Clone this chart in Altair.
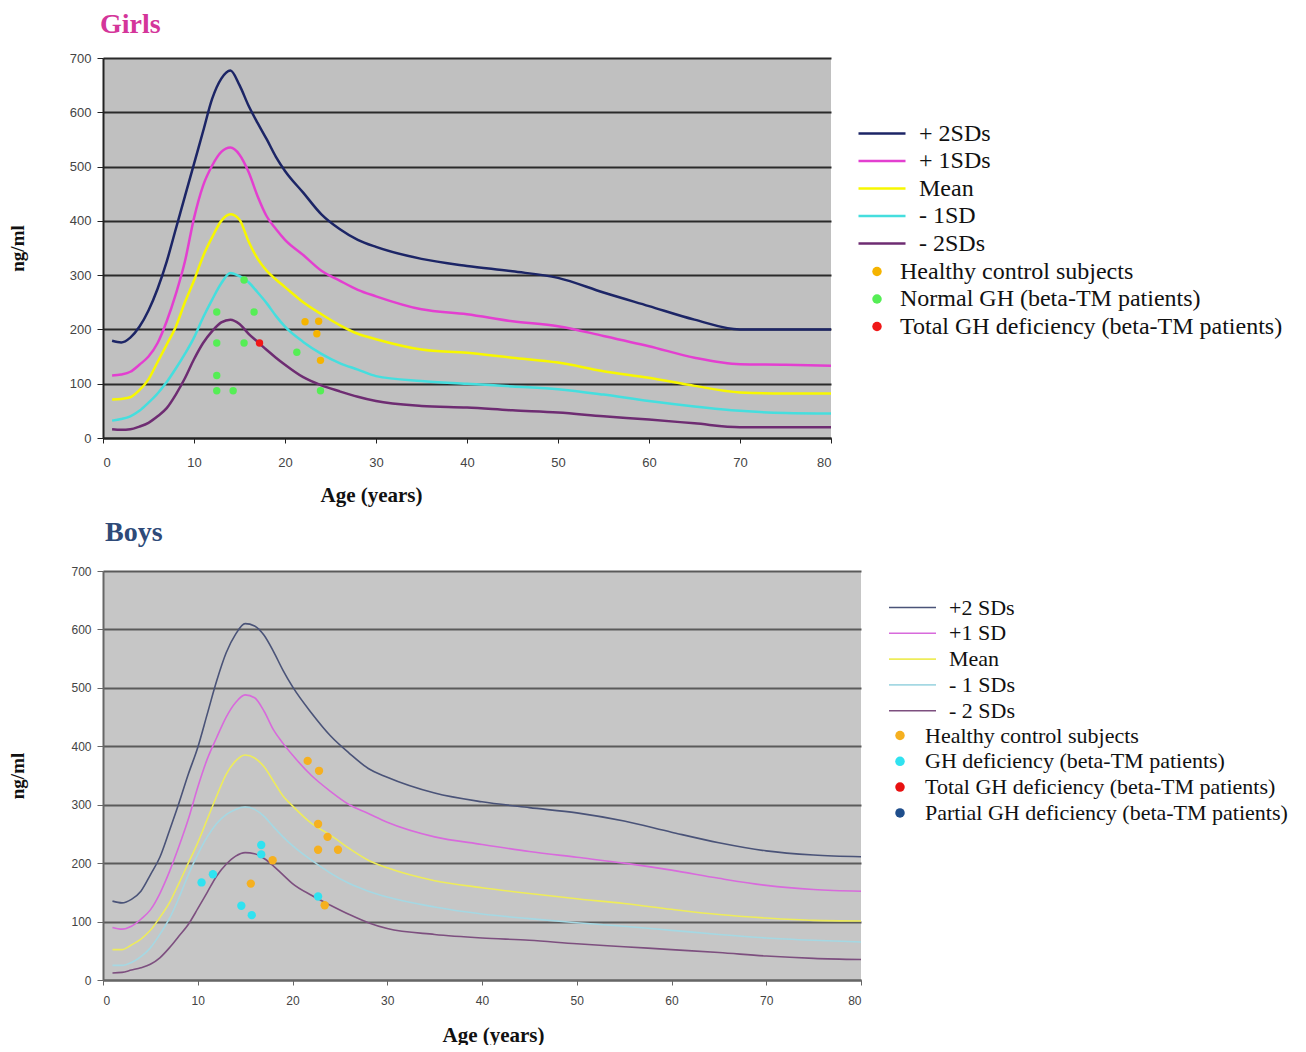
import altair as alt
import pandas as pd

# ---------------- data ----------------
ages = [1, 2, 3, 4, 5, 6, 7, 8, 9, 10, 11, 12, 13, 14, 15, 16, 17, 18, 19, 20,
        22, 24, 26, 28, 30, 35, 40, 45, 50, 55, 60, 65, 70, 75, 80]

# Girls reference curves (ng/ml)
g_series = ["+ 2SDs", "+ 1SDs", "Mean", "- 1SD", "- 2SDs"]
g_p2 = [179, 176, 185, 205, 235, 275, 325, 385, 445, 505, 565, 625, 662, 677, 650, 612, 580, 550, 518, 492,
        452, 412, 385, 365, 352, 330, 317, 307, 295, 268, 243, 218, 200, 200, 200]
g_p1 = [115, 117, 122, 135, 150, 175, 215, 265, 325, 405, 465, 502, 527, 535, 522, 490, 445, 408, 385, 365,
        337, 308, 290, 273, 261, 237, 228, 215, 206, 188, 169, 148, 136, 135, 133]
g_mean = [71, 72, 75, 88, 108, 140, 172, 205, 250, 290, 335, 370, 400, 412, 402, 362, 330, 308, 292, 278,
          250, 228, 208, 192, 182, 163, 157, 148, 139, 123, 111, 96, 84, 82, 82]
g_m1 = [32, 35, 40, 50, 65, 82, 103, 128, 155, 185, 222, 255, 285, 304, 298, 287, 268, 248, 225, 205,
        177, 155, 138, 126, 114, 105, 100, 95, 90, 80, 68, 58, 50, 46, 45]
g_m2 = [16, 15, 16, 21, 28, 40, 55, 80, 110, 145, 175, 197, 213, 218, 210, 192, 177, 162, 148, 135,
        112, 97, 86, 76, 68, 59, 56, 51, 47, 40, 34, 27, 20, 20, 20]

g_groups = ["Healthy control subjects", "Normal GH (beta-TM   patients)",
            " Total GH deficiency (beta-TM patients)"]
g_healthy_x = [22.2, 23.7, 23.5, 23.9]
g_healthy_y = [214, 215, 192, 143]
g_normal_x = [15.5, 12.5, 16.6, 12.5, 15.5, 21.3, 12.5, 12.5, 14.3, 23.9]
g_normal_y = [291, 232, 232, 175, 175, 158, 115, 87, 87, 87]
g_total_x = [17.2]
g_total_y = [175]

# Boys reference curves (ng/ml)
b_series = ["+2 SDs", "+1 SD", "Mean", "- 1 SDs", "- 2 SDs"]
b_p2 = [135, 132, 138, 152, 180, 210, 255, 302, 352, 398, 455, 512, 560, 592, 610, 606, 590, 562, 530, 502,
        457, 418, 388, 362, 347, 320, 305, 295, 286, 272, 253, 235, 221, 214, 211]
b_p1 = [90, 87, 92, 104, 120, 148, 185, 228, 275, 330, 378, 415, 450, 475, 488, 483, 460, 428, 405, 385,
        350, 323, 300, 285, 270, 245, 232, 220, 210, 200, 188, 174, 162, 155, 152]
b_mean = [52, 52, 60, 70, 85, 107, 132, 165, 200, 235, 275, 315, 352, 375, 385, 380, 365, 340, 315, 298,
          268, 248, 225, 205, 192, 170, 158, 148, 139, 131, 121, 112, 106, 102, 101]
b_m1 = [25, 25, 30, 40, 55, 78, 105, 140, 180, 215, 245, 268, 283, 292, 296, 292, 280, 262, 245, 230,
        205, 183, 165, 152, 142, 125, 113, 105, 98, 92, 85, 78, 72, 68, 65]
b_m2 = [12, 13, 17, 21, 27, 38, 55, 75, 95, 122, 150, 178, 198, 212, 218, 216, 208, 195, 180, 165,
        145, 128, 112, 98, 88, 78, 72, 68, 62, 57, 52, 47, 41, 37, 35]

b_groups = ["Healthy control subjects", " GH deficiency (beta-TM patients)",
            "Total  GH deficiency  (beta-TM patients)", "Partial GH deficiency  (beta-TM patients)"]
b_healthy_x = [17.9, 15.6, 22.7, 23.7, 22.7, 24.8, 23.4, 21.6, 22.8]
b_healthy_y = [205, 165, 267, 245, 223, 223, 128, 375, 358]
b_ghd_x = [16.7, 16.7, 11.6, 10.4, 14.6, 15.7, 22.7]
b_ghd_y = [231, 215, 181, 167, 127, 111, 143]

x_ticks = [0, 10, 20, 30, 40, 50, 60, 70, 80]
y_ticks = [0, 100, 200, 300, 400, 500, 600, 700]

# ---------------- styles ----------------
g_colors = ["#1C2566", "#E33FD0", "#F7F700", "#45DEDE", "#6E2C72"]
g_widths = [2.5, 2.5, 3, 2.5, 2.5]
g_pt_colors = ["#F5B400", "#55EE55", "#F01818"]

b_colors = ["#4A5378", "#D86ADC", "#EEEC5A", "#A5D8E3", "#7D4F7F"]
b_widths = [1.6, 1.6, 2.2, 4, 1.6]
b_pt_colors = ["#F5B020", "#30E2F0", "#E81010", "#1F4E8C"]

SERIF = "Liberation Serif"
SANS = "Liberation Sans"


def lines_df(names, value_lists):
    rows = []
    for name, vals in zip(names, value_lists):
        for a, v in zip(ages, vals):
            rows.append({"age": a, "value": v, "series": name})
    return pd.DataFrame(rows)


def points_df(groups, xs, ys):
    rows = []
    for g, xl, yl in zip(groups, xs, ys):
        for a, v in zip(xl, yl):
            rows.append({"age": a, "value": v, "group": g})
    return pd.DataFrame(rows)


def panel(title, title_color, title_dx, ldf, pdf, series, colors, widths, groups, pt_colors,
          w, h, bg, grid_color, domain_color, lab_size, leg_font, clip_h, leg_row,
          lx, ly, px, py, pt_off, x_title_x, x_lab_pad, x_title_pad, y_title_pad,
          pt_size, title_offset):
    xax = alt.Axis(values=x_ticks, title="Age (years)", titleFont=SERIF, titleFontSize=21,
                   titleFontWeight="bold", titleColor="#111", titleX=x_title_x,
                   titlePadding=x_title_pad,
                   labelFont=SANS, labelFontSize=lab_size, labelColor="#444",
                   labelPadding=x_lab_pad,
                   tickSize=5, tickColor=domain_color, domainColor=domain_color, domainWidth=2,
                   grid=False)
    yax = alt.Axis(values=y_ticks, title="ng/ml", titleFont=SERIF, titleFontSize=19,
                   titleFontWeight="bold", titleColor="#111", titlePadding=y_title_pad,
                   labelFont=SANS, labelFontSize=lab_size, labelColor="#444", labelPadding=6,
                   tickSize=6, tickColor=domain_color, domainColor=domain_color, domainWidth=2,
                   gridColor=grid_color, gridWidth=2, gridOpacity=1)
    x = alt.X("age:Q", scale=alt.Scale(domain=[0, 80], nice=False), axis=xax)
    y = alt.Y("value:Q", scale=alt.Scale(domain=[0, 700], nice=False), axis=yax)

    line_leg = alt.Legend(orient="none", legendX=lx, legendY=ly, title=None,
                          symbolType="stroke", symbolSize=2209, symbolStrokeWidth=3,
                          clipHeight=clip_h, rowPadding=leg_row, labelFont=SERIF,
                          labelFontSize=leg_font, labelColor="#111", labelOffset=12,
                          labelLimit=600)
    pt_leg = alt.Legend(orient="none", legendX=px, legendY=py, title=None,
                        symbolType="circle", symbolSize=90, symbolStrokeWidth=0,
                        clipHeight=clip_h, rowPadding=leg_row, labelFont=SERIF,
                        labelFontSize=leg_font, labelColor="#111", labelOffset=pt_off,
                        labelLimit=600)

    lines = alt.Chart(ldf).mark_line(interpolate="monotone").encode(
        x=x, y=y,
        color=alt.Color("series:N", scale=alt.Scale(domain=series, range=colors), legend=line_leg),
        strokeWidth=alt.StrokeWidth("series:N", scale=alt.Scale(domain=series, range=widths),
                                    legend=None),
    )
    pts = alt.Chart(pdf).mark_circle(size=pt_size, opacity=1).encode(
        x=alt.X("age:Q"), y=alt.Y("value:Q"),
        fill=alt.Fill("group:N", scale=alt.Scale(domain=groups, range=pt_colors), legend=pt_leg),
    )
    return alt.layer(lines, pts).properties(
        width=w, height=h,
        title=alt.TitleParams(text=title, anchor="start", frame="group", font=SERIF,
                              fontSize=28, fontWeight="bold", color=title_color,
                              offset=title_offset, dx=title_dx),
        view=alt.ViewBackground(fill=bg, stroke=None),
    )


girls = panel("Girls", "#D4359A", -3,
              lines_df(g_series, [g_p2, g_p1, g_mean, g_m1, g_m2]),
              points_df(g_groups, [g_healthy_x, g_normal_x, g_total_x],
                        [g_healthy_y, g_normal_y, g_total_y]),
              g_series, g_colors, g_widths, g_groups, g_pt_colors,
              728, 380, "#C0C0C0", "#2A2A2A", "#222222", 13, 24, 25, 2.5,
              754, 63, 762, 201, 11, 268, 13, 15, 42, 55, 13)

boys = panel("Boys", "#2E4A78", 2,
             lines_df(b_series, [b_p2, b_p1, b_mean, b_m1, b_m2]),
             points_df(b_groups, [b_healthy_x, b_ghd_x, [], []],
                       [b_healthy_y, b_ghd_y, [], []]),
             b_series, b_colors, b_widths, b_groups, b_pt_colors,
             758, 409, "#C6C6C6", "#5A5A5A", "#666666", 12, 22, 23, 2.8,
             785, 25, 786, 153, 14, 390, 10, 18, 43, 70, 18)

chart = alt.vconcat(girls, boys, spacing=14).resolve_scale(
    x="independent", y="independent", color="independent", fill="independent",
    strokeWidth="independent"
).properties(padding={"top": 3, "left": 0, "right": 0, "bottom": 0}).configure_view(stroke=None)

chart.save("out.html", embed_options={"renderer": "svg", "actions": False})
